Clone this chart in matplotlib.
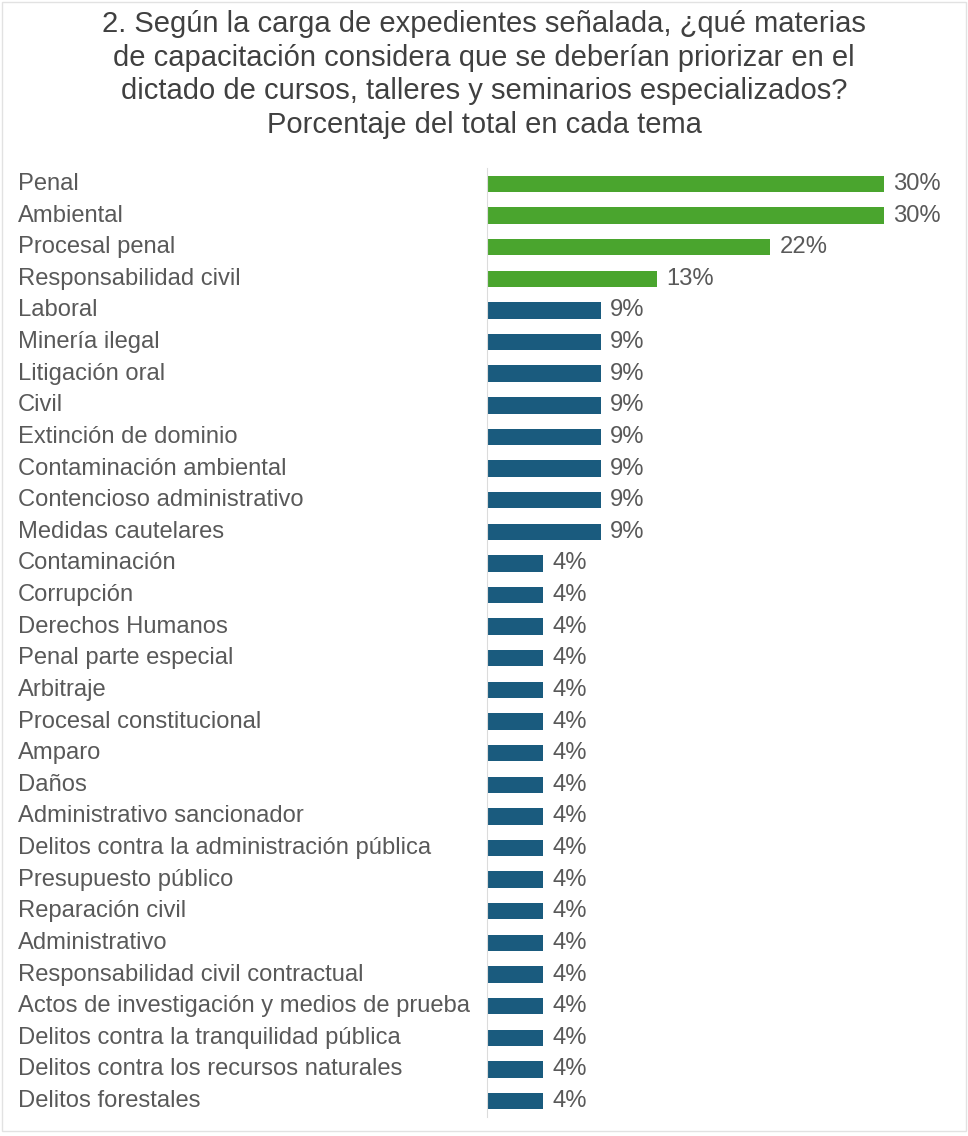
import matplotlib
matplotlib.use("Agg")
import matplotlib.pyplot as plt
import matplotlib.transforms as mtransforms
from matplotlib.patches import Rectangle

# Data (n/23 responses, shown rounded)
categories = [
    "Penal", "Ambiental", "Procesal penal", "Responsabilidad civil",
    "Laboral", "Minería ilegal", "Litigación oral", "Civil",
    "Extinción de dominio", "Contaminación ambiental",
    "Contencioso administrativo", "Medidas cautelares",
    "Contaminación", "Corrupción", "Derechos Humanos",
    "Penal parte especial", "Arbitraje", "Procesal constitucional",
    "Amparo", "Daños", "Administrativo sancionador",
    "Delitos contra la administración pública", "Presupuesto público",
    "Reparación civil", "Administrativo",
    "Responsabilidad civil contractual",
    "Actos de investigación y medios de prueba",
    "Delitos contra la tranquilidad pública",
    "Delitos contra los recursos naturales", "Delitos forestales",
]
values = [30.4, 30.4, 21.7, 13.0] + [8.7] * 8 + [4.3] * 18
highlight = [True] * 4 + [False] * 26

green = "#4aa52e"
blue = "#1a5b7e"
text_color = "#595959"

plt.rcParams['font.family'] = ['Liberation Sans', 'DejaVu Sans']

fig = plt.figure(figsize=(9.68, 11.36), dpi=100)
fig.patches.append(Rectangle((0.002, 0.004), 0.996, 0.994, transform=fig.transFigure,
                             fill=False, edgecolor="#e2e2e2", lw=1))

ax = fig.add_axes([487 / 968, 0.0169, 34 * 13.06 / 968, 0.852 - 0.0169])
ypos = list(range(len(categories)))
colors = [green if h else blue for h in highlight]
ax.barh(ypos, values, height=0.52, color=colors)
ax.set_xlim(0, 34)
ax.set_ylim(len(categories) - 0.5, -0.5)

for s in ["top", "right", "bottom"]:
    ax.spines[s].set_visible(False)
ax.spines["left"].set_color("#dcdcdc")
ax.set_xticks([])
ax.set_yticks([])

trans = mtransforms.blended_transform_factory(fig.transFigure, ax.transData)
for y, name, v in zip(ypos, categories, values):
    ax.text(18 / 968, y, name, transform=trans, ha="left", va="center",
            fontsize=17.1, color=text_color)
    ax.text(v + 0.7, y, f"{round(v)}%", ha="left", va="center",
            fontsize=17.1, color=text_color)

fig.text(0.5, 0.9345,
         "2. Según la carga de expedientes señalada, ¿qué materias\n"
         "de capacitación considera que se deberían priorizar en el\n"
         "dictado de cursos, talleres y seminarios especializados?\n"
         "Porcentaje del total en cada tema",
         ha="center", va="center", fontsize=21, color="#404040", linespacing=1.25)

fig.savefig("out.png", dpi=100, facecolor="white")
